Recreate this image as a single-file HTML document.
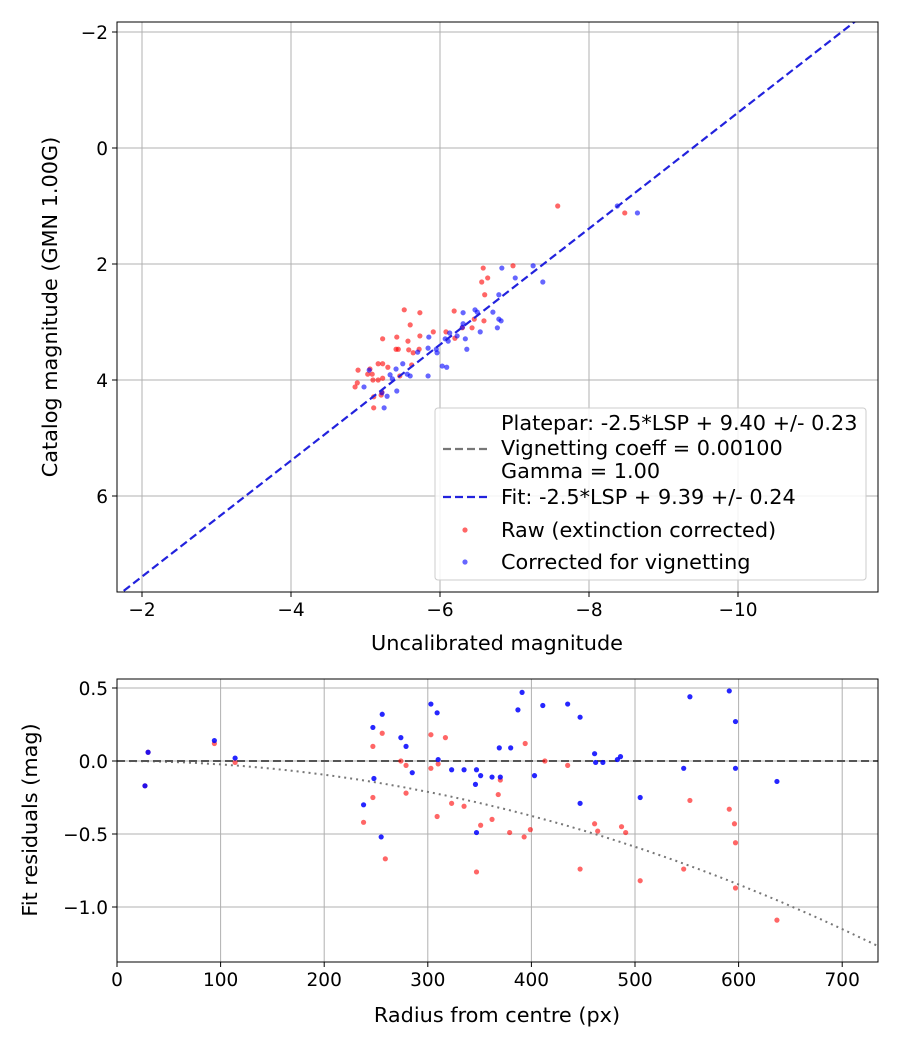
<!DOCTYPE html>
<html><head><meta charset="utf-8"><style>
body{margin:0;background:#fff;font-family:"Liberation Sans","DejaVu Sans",sans-serif}
svg text{font-family:"DejaVu Sans","Liberation Sans",sans-serif;fill:#000}
</style></head><body>
<svg id="c" width="900" height="1050" xmlns="http://www.w3.org/2000/svg"></svg>
<script>
// Top panel data
const rawX=[-7.58,-8.48,-6.58,-6.98,-6.64,-6.56,-6.60,-5.52,-5.73,-6.19,-5.60,-5.91,-6.08,-6.59,-6.46,-6.30,-6.43,-5.23,-5.42,-5.57,-5.73,-6.20,-5.41,-5.44,-5.58,-5.64,-5.72,-5.62,-4.90,-5.17,-5.23,-5.30,-5.06,-5.09,-5.03,-5.10,-5.23,-5.46,-4.89,-4.86,-5.17,-5.22,-5.21,-5.11,-5.11];
const rawY=[1.00,1.12,2.07,2.03,2.24,2.31,2.53,2.79,2.84,2.81,3.05,3.17,3.17,2.98,2.95,3.10,3.10,3.29,3.26,3.33,3.24,3.28,3.47,3.47,3.48,3.53,3.47,3.74,3.83,3.72,3.72,3.78,3.81,3.90,3.90,4.00,3.97,3.93,4.05,4.12,4.00,4.21,4.26,4.29,4.48];
const corX=[-6.83,-7.25,-7.38,-7.01,-6.79,-6.31,-6.47,-6.50,-6.71,-6.79,-6.82,-6.77,-6.54,-6.31,-6.30,-6.13,-6.23,-6.07,-6.11,-6.34,-6.36,-5.85,-5.84,-5.95,-5.96,-5.70,-5.50,-5.41,-6.03,-6.09,-5.84,-5.60,-5.56,-5.33,-5.36,-5.05,-4.98,-5.29,-5.42,-5.22,-5.25,-8.65,-8.38];
const corY=[2.07,2.03,2.31,2.24,2.53,2.84,2.79,2.83,2.83,2.95,2.98,3.10,3.17,3.03,3.09,3.19,3.24,3.29,3.33,3.29,3.47,3.26,3.45,3.47,3.53,3.52,3.72,3.81,3.76,3.78,3.93,3.93,3.90,3.91,3.98,3.83,4.12,4.28,4.19,4.22,4.48,1.12,1.00];
const fitIntercept=9.39;
const topXTicks=[-2,-4,-6,-8,-10];
const topYTicks=[-2,0,2,4,6];
// Bottom panel data
const blueR=[27,30,94,114,238,247,256,248,255,274,279,285,303,309,310,323,335,347,346,347,351,362,369,370,380,387,391,403,411,435,447,447,461,462,469,483,486,505,547,553,591,597,597,637];
const blueRes=[-0.17,0.06,0.14,0.02,-0.30,0.23,0.32,-0.12,-0.52,0.16,0.10,-0.08,0.39,0.33,0.01,-0.06,-0.06,-0.06,-0.16,-0.49,-0.10,-0.11,0.09,-0.11,0.09,0.35,0.47,-0.10,0.38,0.39,0.30,-0.29,0.05,-0.01,-0.01,0.01,0.03,-0.25,-0.05,0.44,0.48,0.27,-0.05,-0.14];
const redR=[27,30,94,114,238,247,247,256,259,274,279,279,303,303,309,310,317,323,335,347,351,362,368,370,379,393,394,399,413,435,447,461,464,487,491,505,547,553,591,596,597,597,637];
const redRes=[-0.17,0.06,0.12,-0.01,-0.42,0.10,-0.25,0.19,-0.67,0.0,-0.03,-0.22,0.18,-0.05,-0.38,-0.02,0.16,-0.29,-0.31,-0.76,-0.44,-0.40,-0.23,-0.13,-0.49,-0.52,0.12,-0.47,0.0,-0.03,-0.74,-0.43,-0.48,-0.45,-0.49,-0.82,-0.74,-0.27,-0.33,-0.43,-0.56,-0.87,-1.09];
const botXTicks=[0,100,200,300,400,500,600,700];
const botYTicks=[0.5,0.0,-0.5,-1.0];
const botYLabels=["0.5","0.0","−0.5","−1.0"];
const vigK=2.35e-6;

const svg=document.getElementById('c');
const NS='http://www.w3.org/2000/svg';
function mk(t,a,p){const e=document.createElementNS(NS,t);for(const k in a)e.setAttribute(k,a[k]);(p||svg).appendChild(e);return e;}
const TF=18.5, LF=20.8;
const T={l:117,r:878,t:22,b:592};
const tx=v=>142-(v+2)*74.5;
const ty=v=>148+v*58;
const B={l:117,r:878,t:679,b:962};
const bx=v=>117+v*1.036;
const by=v=>761-v*146;

function frame(A,name){
  const g=mk('g',{});
  
  
  return g;
}
// ---- TOP ----
const gt=frame(T,'top-panel');
const clipT=mk('clipPath',{id:'ct'});mk('rect',{x:T.l,y:T.t,width:T.r-T.l,height:T.b-T.t},clipT);
const clipB=mk('clipPath',{id:'cb'});mk('rect',{x:B.l,y:B.t,width:B.r-B.l,height:B.b-B.t},clipB);
topXTicks.forEach(v=>{const x=tx(v);
  mk('line',{x1:x,x2:x,y1:T.t,y2:T.b,stroke:'#b0b0b0','stroke-width':1},gt);
  mk('line',{x1:x,x2:x,y1:T.b,y2:T.b+5,stroke:'#000'},gt);
  const t=mk('text',{x:x,y:T.b+24,'text-anchor':'middle','font-size':TF},gt);t.textContent=(v<0?'−':'')+Math.abs(v);
  });
topYTicks.forEach(v=>{const y=ty(v);
  mk('line',{x1:T.l,x2:T.r,y1:y,y2:y,stroke:'#b0b0b0','stroke-width':1},gt);
  mk('line',{x1:T.l-5,x2:T.l,y1:y,y2:y,stroke:'#000'},gt);
  const t=mk('text',{x:T.l-9,y:y+7,'text-anchor':'end','font-size':TF},gt);t.textContent=(v<0?'−':'')+Math.abs(v);
  });
const gtp=mk('g',{'clip-path':'url(#ct)'},gt);
rawX.forEach((v,i)=>{const c=mk('circle',{cx:tx(v),cy:ty(rawY[i]),r:2.6,fill:'red','fill-opacity':0.6},gtp);
  });
corX.forEach((v,i)=>{const c=mk('circle',{cx:tx(v),cy:ty(corY[i]),r:2.6,fill:'blue','fill-opacity':0.6},gtp);
  });
const fl=mk('line',{x1:tx(-1.5),y1:ty(-1.5+fitIntercept),x2:tx(-12),y2:ty(-12+fitIntercept),stroke:'#2222dd','stroke-width':2.2,'stroke-dasharray':'8,4'},gtp);

mk('rect',{x:T.l,y:T.t,width:T.r-T.l,height:T.b-T.t,fill:'none',stroke:'#000','stroke-width':1},gt);
let t=mk('text',{x:497,y:650,'text-anchor':'middle','font-size':LF});t.textContent='Uncalibrated magnitude';

t=mk('text',{x:0,y:0,'text-anchor':'middle','font-size':LF,transform:'translate(57,307) rotate(-90)'});t.textContent='Catalog magnitude (GMN 1.00G)';

// legend
const lg=mk('g',{});
mk('rect',{x:435,y:408,width:431,height:172,rx:3,fill:'#fff','fill-opacity':0.85,stroke:'#ccc'},lg);
[['Platepar: -2.5*LSP + 9.40 +/- 0.23',430],['Vignetting coeff = 0.00100',455],['Gamma = 1.00',478],['Fit: -2.5*LSP + 9.39 +/- 0.24',504],['Raw (extinction corrected)',537],['Corrected for vignetting',569]].forEach(a=>{
  const e=mk('text',{x:501,y:a[1],'font-size':LF},lg);e.textContent=a[0];});
mk('line',{x1:443,x2:487,y1:449,y2:449,stroke:'#777','stroke-width':2.2,'stroke-dasharray':'8,4'},lg);
mk('line',{x1:443,x2:487,y1:497,y2:497,stroke:'#2222dd','stroke-width':2.2,'stroke-dasharray':'8,4'},lg);
mk('circle',{cx:465,cy:530,r:2.6,fill:'red','fill-opacity':0.6},lg);
mk('circle',{cx:465,cy:562,r:2.6,fill:'blue','fill-opacity':0.6},lg);

// ---- BOTTOM ----
const gb=frame(B,'bottom-panel');
botXTicks.forEach(v=>{const x=bx(v);
  mk('line',{x1:x,x2:x,y1:B.t,y2:B.b,stroke:'#b0b0b0'},gb);
  mk('line',{x1:x,x2:x,y1:B.b,y2:B.b+5,stroke:'#000'},gb);
  const e=mk('text',{x:x,y:B.b+24,'text-anchor':'middle','font-size':TF},gb);e.textContent=v;
  });
botYTicks.forEach((v,i)=>{const y=by(v);
  mk('line',{x1:B.l,x2:B.r,y1:y,y2:y,stroke:'#b0b0b0'},gb);
  mk('line',{x1:B.l-5,x2:B.l,y1:y,y2:y,stroke:'#000'},gb);
  const e=mk('text',{x:B.l-9,y:y+7,'text-anchor':'end','font-size':TF},gb);e.textContent=botYLabels[i];
  });
const gbp=mk('g',{'clip-path':'url(#cb)'},gb);
let d='';for(let r=0;r<=740;r+=5){d+=(r?'L':'M')+bx(r).toFixed(1)+','+by(-vigK*r*r).toFixed(1);}
const vc=mk('path',{d:d,fill:'none',stroke:'#777','stroke-width':2,'stroke-dasharray':'2,4'},gbp);

const zl=mk('line',{x1:B.l,x2:B.r,y1:by(0),y2:by(0),stroke:'#555','stroke-width':2,'stroke-dasharray':'8,4'},gbp);

redR.forEach((v,i)=>{const c=mk('circle',{cx:bx(v),cy:by(redRes[i]),r:2.6,fill:'red','fill-opacity':0.6},gbp);
  });
blueR.forEach((v,i)=>{const c=mk('circle',{cx:bx(v),cy:by(blueRes[i]),r:2.6,fill:'blue','fill-opacity':0.85},gbp);
  });
mk('rect',{x:B.l,y:B.t,width:B.r-B.l,height:B.b-B.t,fill:'none',stroke:'#000'},gb);
t=mk('text',{x:497,y:1022,'text-anchor':'middle','font-size':LF});t.textContent='Radius from centre (px)';

t=mk('text',{x:0,y:0,'text-anchor':'middle','font-size':LF,transform:'translate(37,820) rotate(-90)'});t.textContent='Fit residuals (mag)';

</script>
</body></html>
